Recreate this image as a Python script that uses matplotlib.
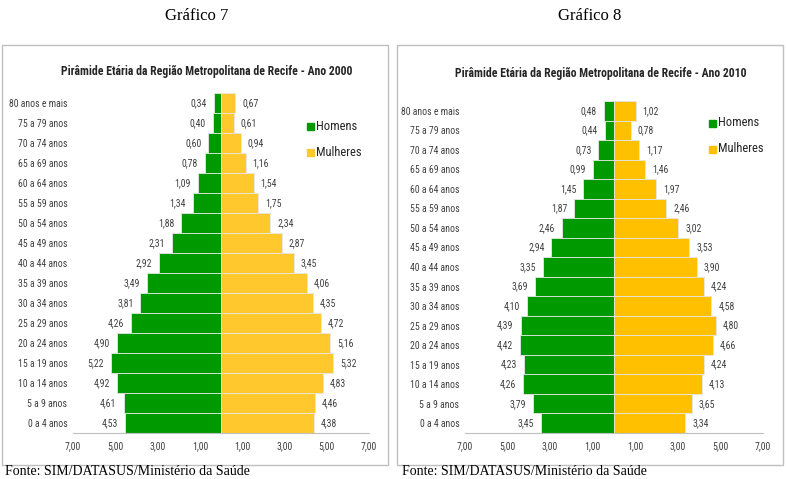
import matplotlib
matplotlib.use('Agg')
import matplotlib.pyplot as plt
import matplotlib.transforms as mtransforms
from matplotlib import font_manager
from matplotlib.patches import Rectangle

ages = ['0 a 4 anos', '5 a 9 anos', '10 a 14 anos', '15 a 19 anos', '20 a 24 anos',
        '25 a 29 anos', '30 a 34 anos', '35 a 39 anos', '40 a 44 anos', '45 a 49 anos',
        '50 a 54 anos', '55 a 59 anos', '60 a 64 anos', '65 a 69 anos', '70 a 74 anos',
        '75 a 79 anos', '80 anos e mais']
homens_2000 = [4.53, 4.61, 4.92, 5.22, 4.90, 4.26, 3.81, 3.49, 2.92, 2.31, 1.88, 1.34, 1.09, 0.78, 0.60, 0.40, 0.34]
mulheres_2000 = [4.38, 4.46, 4.83, 5.32, 5.16, 4.72, 4.35, 4.06, 3.45, 2.87, 2.34, 1.75, 1.54, 1.16, 0.94, 0.61, 0.67]
homens_2010 = [3.45, 3.79, 4.26, 4.23, 4.42, 4.39, 4.10, 3.69, 3.35, 2.94, 2.46, 1.87, 1.45, 0.99, 0.73, 0.44, 0.48]
mulheres_2010 = [3.34, 3.65, 4.13, 4.24, 4.66, 4.80, 4.58, 4.24, 3.90, 3.53, 3.02, 2.46, 1.97, 1.46, 1.17, 0.78, 1.02]
ticks = [-7, -5, -3, -1, 1, 3, 5, 7]

available = {f.name for f in font_manager.fontManager.ttflist}
narrow = 'DejaVu Sans'
for name in ['Liberation Sans Narrow', 'Roboto Condensed', 'Liberation Sans']:
    if name in available:
        narrow = name
        break
serif = 'Liberation Serif' if 'Liberation Serif' in available else 'DejaVu Serif'

W, H = 786, 479
fig = plt.figure(figsize=(W / 100, H / 100), dpi=100)


def fx(px):
    return px / W


def fy(py):
    return 1 - py / H


def fmt(v):
    return ('%.2f' % abs(v)).replace('.', ',')


def pyramid(rect, homens, mulheres, yellow, title, title_xy, legend_xy):
    ax = fig.add_axes(rect)
    y = list(range(len(ages)))
    ax.barh(y, [-v for v in homens], height=1.0, color='#009900', edgecolor='#e6e6e6', linewidth=0.6)
    ax.barh(y, mulheres, height=1.0, color=yellow, edgecolor='#e6e6e6', linewidth=0.6)
    for i in y:
        ax.annotate(fmt(homens[i]), (-homens[i], i), xytext=(-5, 0), textcoords='offset points',
                    ha='right', va='center', fontsize=7, family=narrow, color='#404040')
        ax.annotate(fmt(mulheres[i]), (mulheres[i], i), xytext=(5, 0), textcoords='offset points',
                    ha='left', va='center', fontsize=7, family=narrow, color='#404040')
    ax.set_xlim(-7, 7)
    ax.set_ylim(-0.5, len(ages) - 0.5)
    ax.set_yticks(y)
    ax.set_yticklabels(ages, fontsize=7, family=narrow, color='#404040')
    ax.set_xticks(ticks)
    ax.set_xticklabels([fmt(t) for t in ticks], fontsize=7, family=narrow, color='#404040')
    shift = mtransforms.ScaledTranslation(0.06, 0, fig.dpi_scale_trans)
    for lab in ax.get_xticklabels():
        lab.set_transform(lab.get_transform() + shift)
    ax.tick_params(axis='y', length=0, pad=4)
    ax.tick_params(axis='x', length=0, pad=6)
    for s in ['top', 'right', 'left']:
        ax.spines[s].set_visible(False)
    ax.spines['bottom'].set_color('#bfbfbf')
    fig.text(fx(title_xy[0]), fy(title_xy[1]), title, ha='center', va='center',
             fontsize=8.5, fontweight='bold', family=narrow, color='#262626')
    lx, ly = legend_xy
    for k, (lab, col) in enumerate([('Homens', '#009900'), ('Mulheres', yellow)]):
        yy = ly + k * 26
        fig.patches.append(Rectangle((fx(lx - 3), fy(yy + 3.5)), fx(7), 7 / H,
                                     transform=fig.transFigure, color=col))
        fig.text(fx(lx + 6), fy(yy), lab, ha='left', va='center', fontsize=9,
                 family=narrow, color='#262626')


# panel frames
for x0, x1 in [(2, 388), (397, 783)]:
    fig.patches.append(Rectangle((fx(x0), fy(465)), fx(x1 - x0), (465 - 45) / H,
                                 transform=fig.transFigure, fill=False,
                                 edgecolor='#bfbfbf', linewidth=1))

pyramid([fx(73), fy(433), fx(296), (433 - 93) / H], homens_2000, mulheres_2000, '#FFC92E',
        'Pirâmide Etária da Região Metropolitana de Recife - Ano 2000', (207, 72), (310, 126))
pyramid([fx(465), fy(433), fx(298), (433 - 101) / H], homens_2010, mulheres_2010, '#FFC000',
        'Pirâmide Etária da Região Metropolitana de Recife - Ano 2010', (601, 73), (712, 123))

fig.text(fx(197), fy(16), 'Gráfico 7', ha='center', va='center', fontsize=12, family=serif)
fig.text(fx(590), fy(16), 'Gráfico 8', ha='center', va='center', fontsize=12, family=serif)
fig.text(fx(5), fy(475), 'Fonte: SIM/DATASUS/Ministério da Saúde', ha='left', va='baseline',
         fontsize=10, family=serif)
fig.text(fx(402), fy(475), 'Fonte: SIM/DATASUS/Ministério da Saúde', ha='left', va='baseline',
         fontsize=10, family=serif)

fig.savefig('out.png', dpi=100)
